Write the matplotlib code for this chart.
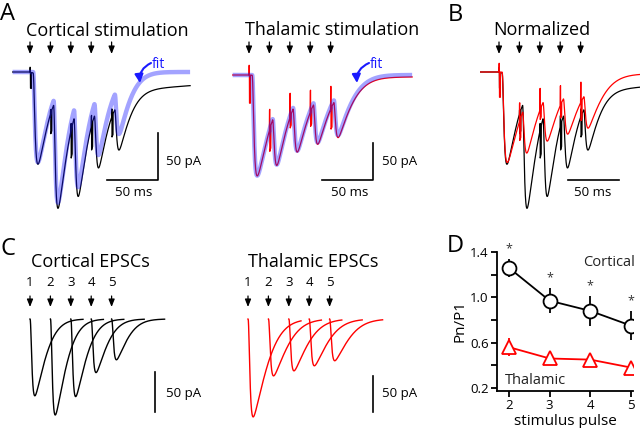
import numpy as np
import matplotlib.pyplot as plt
from matplotlib.transforms import blended_transform_factory

plt.rcParams['font.family'] = ['Open Sans', 'DejaVu Sans']

W, H = 640, 428

# stimulus train, 50 Hz (ms)
stim_times = [0, 20, 40, 60, 80]
pulse_labels = ['1', '2', '3', '4', '5']

# single EPSC amplitudes (pA), as seen in panel C
cortical_amp = [96, 120, 97, 67, 51]
thalamic_amp = [136, 79, 72, 65, 58]
cortical_tau = 16.4   # decay time constant (ms)
thalamic_tau = 20.2

# slow component left in the recorded traces (pA per pulse)
cortical_slow = 5.5
thalamic_slow = 1.0

# stimulus artefacts in the recordings (pA): spike up, notch down
cortical_art_up = [5, 4, 7, 11, 8]
cortical_art_dn = [17, 22, 30, 26, 22]
thalamic_art_up = [13, 27, 32, 29, 30]
thalamic_art_dn = [38, 30, 15, 20, 28]

# panel D: Pn/P1
pulse_n = [2, 3, 4, 5]
cortical_ratio = [1.26, 0.97, 0.88, 0.75]
cortical_err = [0.08, 0.11, 0.13, 0.13]
thalamic_ratio = [0.56, 0.46, 0.45, 0.38]
thalamic_err = [0.08, 0.05, 0.03, 0.05]
yticks_d = [0.2, 0.4, 0.6, 0.8, 1.0, 1.2, 1.4]
yticklabels_d = ['0.2', '', '0.6', '', '1.0', '', '1.4']

BLUE = (0.1, 0.1, 1.0)


def kernel(t, tau, lat=0.0, rise=1.2):
    # fast rise, stretched-exponential decay, peak normalised to 1
    def shape(s):
        return (1 - np.exp(-s / rise)) ** 3 * np.exp(-(s / tau) ** 1.5)
    s = np.clip(t - lat, 0, None)
    return shape(s) / shape(np.linspace(0, 100, 10001)).max()


def train_fit(t, amps, tau, lat):
    return -sum(a * kernel(t - tk, tau, lat) for a, tk in zip(amps, stim_times))


def recording(t, amps, tau, lat, slow, art_up, art_dn):
    y = train_fit(t, amps, tau, lat)
    for tk, up, dn in zip(stim_times, art_up, art_dn):
        s = t - tk
        y = y - slow * np.where(s > 0, (1 - np.exp(-s / 15)) * np.exp(-s / 180), 0)
        y = np.where((s >= 0) & (s < 0.4), y + up, y)
        y = np.where((s >= 0.4) & (s < 1.4), y - dn, y)
    return y


fig = plt.figure(figsize=(6.4, 4.28), dpi=100)
pix = fig.add_axes([0, 0, 1, 1])
pix.set_xlim(0, W)
pix.set_ylim(H, 0)
pix.axis('off')


def trace_axes(x0, y0, px_ms, px_pa):
    ax = fig.add_axes([0, 0, 1, 1])
    ax.set_xlim(-x0 / px_ms, (W - x0) / px_ms)
    ax.set_ylim(-(H - y0) / px_pa, y0 / px_pa)
    ax.axis('off')
    ax.patch.set_visible(False)
    return ax


def stim_arrows(ax, y_top, y_tip, num_y=None):
    tr = blended_transform_factory(ax.transData, pix.transData)
    for tk, lab in zip(stim_times, pulse_labels):
        ax.annotate('', xy=(tk, y_tip), xycoords=tr, xytext=(tk, y_top), textcoords=tr,
                    arrowprops=dict(arrowstyle='-|>,head_length=0.45,head_width=0.18',
                                    color='k', lw=0.9, shrinkA=0, shrinkB=0),
                    annotation_clip=False)
        if num_y is not None:
            ax.text(tk, num_y, lab, transform=tr, ha='center', va='baseline', fontsize=9.5)


# ---- A: cortical stimulation
ax = trace_axes(30, 72, 1.02, 0.94)
t = np.arange(-17, 157, 0.05)
ax.plot(t, recording(t, cortical_amp, cortical_tau, 3.0, cortical_slow,
                     cortical_art_up, cortical_art_dn), color='k', lw=0.9)
ax.plot(t, train_fit(t, cortical_amp, cortical_tau, 3.0), color=BLUE, alpha=0.4, lw=3.2,
        solid_capstyle='butt')
ax.plot([75, 125, 125], [-115, -115, -65], color='k', lw=1.2)
stim_arrows(ax, 42, 54)

# ---- A: thalamic stimulation
ax = trace_axes(249, 75, 1.02, 0.74)
t = np.arange(-16, 160, 0.05)
ax.plot(t, recording(t, thalamic_amp, thalamic_tau, 3.0, thalamic_slow,
                     thalamic_art_up, thalamic_art_dn), color='red', lw=0.9)
ax.plot(t, train_fit(t, thalamic_amp, thalamic_tau, 3.0), color=BLUE, alpha=0.4, lw=3.2,
        solid_capstyle='butt')
ax.plot([72, 122, 122], [-142, -142, -92], color='k', lw=1.2)
stim_arrows(ax, 42, 54)

# ---- B: normalized
ax = trace_axes(499, 72, 1.02, 0.94)
t = np.arange(-18, 139, 0.05)
norm = cortical_amp[0] / thalamic_amp[0]
ax.plot(t, recording(t, cortical_amp, cortical_tau, 3.0, cortical_slow,
                     cortical_art_up, cortical_art_dn), color='k', lw=0.9)
ax.plot(t, norm * recording(t, thalamic_amp, thalamic_tau, 3.0, thalamic_slow,
                            thalamic_art_up, thalamic_art_dn), color='red', lw=0.9)
ax.plot([68, 118], [-115, -115], color='k', lw=1.2)
stim_arrows(ax, 42, 54)

# ---- C: single EPSCs
for x0, amps, tau, col, px_pa, bar in [(30, cortical_amp, cortical_tau, 'k', 0.80, (122.5, -66)),
                                       (248, thalamic_amp, thalamic_tau, 'red', 0.72, (122.5, -79))]:
    ax = trace_axes(x0, 319, 1.02, px_pa)
    for a, tk in zip(amps, stim_times):
        tt = np.arange(tk, tk + 52, 0.05)
        ax.plot(tt, -a * kernel(tt - tk, tau), color=col, lw=1.0)
    ax.plot([bar[0], bar[0]], [bar[1], bar[1] - 50], color='k', lw=1.2)
    stim_arrows(ax, 296, 307, num_y=286)

# ---- text
pix.text(0, 20, 'A', fontsize=17, va='baseline')
pix.text(448, 21, 'B', fontsize=17, va='baseline')
pix.text(0, 255, 'C', fontsize=17, va='baseline')
pix.text(447, 252, 'D', fontsize=17, va='baseline')
pix.text(26, 36, 'Cortical stimulation', fontsize=13, va='baseline')
pix.text(245, 35, 'Thalamic stimulation', fontsize=13, va='baseline')
pix.text(493, 35, 'Normalized', fontsize=13, va='baseline')
pix.text(31, 267, 'Cortical EPSCs', fontsize=13, va='baseline')
pix.text(248, 267, 'Thalamic EPSCs', fontsize=13, va='baseline')
for x, y in [(166, 162), (382, 162), (166, 393), (382, 393)]:
    pix.text(x, y, '50 pA', fontsize=9.5, va='center')
for x, y in [(134, 192), (350, 192), (593, 192)]:
    pix.text(x, y, '50 ms', fontsize=9.5, va='center', ha='center')
for x, y, tip in [(152, 64, (140, 83)), (370, 64, (357, 83))]:
    pix.text(x, y, 'fit', fontsize=10, color=BLUE, va='center')
    pix.annotate('', xy=tip, xytext=(x - 1, y - 1),
                 arrowprops=dict(arrowstyle='-|>,head_length=0.5,head_width=0.25', color=BLUE,
                                 lw=1.5, shrinkA=0, shrinkB=0,
                                 connectionstyle='arc3,rad=0.35'))

# ---- D: paired-pulse ratios
axd = fig.add_axes([497 / W, 1 - 391 / H, 136 / W, 139 / H])
axd.set_xlim(1.705, 5.05)
axd.set_ylim(0.173, 1.4)
for r, e, col, mk in [(cortical_ratio, cortical_err, 'k', 'o'),
                      (thalamic_ratio, thalamic_err, 'red', '^')]:
    axd.vlines(pulse_n, np.array(r) - e, np.array(r) + e, color=col, lw=1.3)
    axd.plot(pulse_n, r, color=col, lw=1.3, marker=mk, ms=10, mfc='white', mec=col, mew=1.3)
for p, r, e in zip(pulse_n, cortical_ratio, cortical_err):
    axd.text(p, r + e + 0.09, '*', ha='center', va='center', fontsize=9, color='#333333')
axd.text(5.1, 1.31, 'Cortical', ha='right', va='center', fontsize=10.5, color='#222222')
axd.text(1.9, 0.27, 'Thalamic', ha='left', va='center', fontsize=10.5, color='#222222')
axd.set_xticks(pulse_n)
axd.set_yticks(yticks_d)
axd.set_yticklabels(yticklabels_d)
for s in ['top', 'right']:
    axd.spines[s].set_visible(False)
for s in ['left', 'bottom']:
    axd.spines[s].set_linewidth(1.3)
axd.tick_params(direction='out', length=4, width=1.3, labelsize=9.5, pad=2)
axd.set_xlabel('stimulus pulse', fontsize=11, labelpad=1)
axd.set_ylabel('Pn/P1', fontsize=11, labelpad=2)

fig.savefig('out.png', dpi=100)
